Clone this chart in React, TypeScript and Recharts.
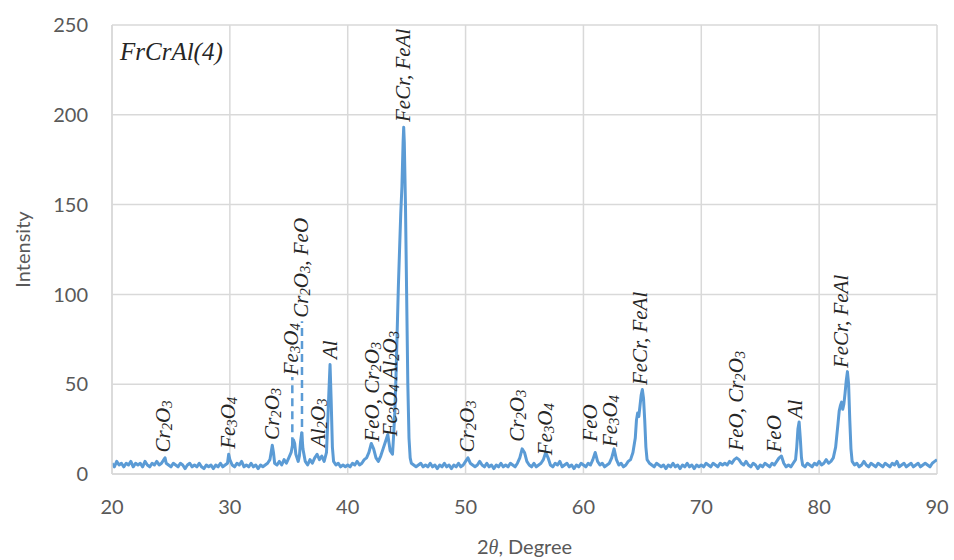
import React from 'react';
import { LineChart, Line, XAxis, YAxis, CartesianGrid, ReferenceDot, ReferenceLine, Label } from 'recharts';

// 2θ (degree), intensity pairs
const scanA: [number, number][] = [
  [20, 6], [20.2, 4], [20.4, 7], [20.6, 5], [20.8, 6], [21, 4], [21.2, 6], [21.4, 5], [21.6, 7], [21.8, 4],
  [22, 6], [22.2, 5], [22.4, 6], [22.6, 4], [22.8, 7], [23, 5], [23.2, 4], [23.4, 6], [23.6, 5], [23.8, 7],
  [24, 5], [24.2, 6], [24.4, 8], [24.5, 9], [24.6, 6], [24.8, 5], [25, 4], [25.2, 6], [25.4, 5], [25.6, 4],
  [25.8, 6], [26, 5], [26.2, 3], [26.4, 5], [26.6, 6], [26.8, 4], [27, 5], [27.2, 4], [27.4, 6], [27.6, 4],
  [27.8, 3], [28, 5], [28.2, 4], [28.4, 5], [28.6, 3], [28.8, 5], [29, 4], [29.2, 6], [29.4, 4], [29.6, 5],
  [29.8, 6], [29.9, 11], [30, 8], [30.2, 5], [30.4, 4], [30.6, 6], [30.8, 5], [31, 7], [31.2, 4], [31.4, 5],
  [31.6, 4], [31.8, 6], [32, 4], [32.2, 5], [32.4, 3], [32.6, 5], [32.8, 4], [33, 5],
];

const scanB: [number, number][] = [
  [33.2, 6], [33.4, 8], [33.6, 16], [33.7, 12], [33.8, 6], [34, 5], [34.2, 7], [34.4, 5], [34.6, 8], [34.8, 6],
  [35, 9], [35.2, 12], [35.4, 19], [35.5, 17], [35.6, 11], [35.8, 7], [35.9, 10], [36, 18], [36.1, 23], [36.2, 14],
  [36.4, 7], [36.6, 5], [36.8, 8], [37, 6], [37.2, 9], [37.4, 11], [37.6, 8], [37.8, 10], [38, 7], [38.2, 12],
  [38.4, 45], [38.5, 61], [38.6, 40], [38.7, 15], [38.8, 7], [39, 5], [39.2, 6], [39.4, 4], [39.6, 5], [39.8, 4],
  [40, 5], [40.2, 4], [40.4, 6], [40.6, 5], [40.8, 7], [41, 5], [41.2, 6], [41.4, 8], [41.6, 9], [41.8, 12],
  [42, 17], [42.2, 14], [42.4, 9], [42.6, 7], [42.8, 10], [43, 14], [43.2, 18], [43.4, 22], [43.6, 13], [43.8, 11],
  [43.9, 22], [44, 35], [44.1, 55], [44.2, 80], [44.3, 105], [44.4, 125], [44.5, 145], [44.6, 160], [44.7, 185], [44.75, 193],
  [44.8, 185], [44.9, 150], [45, 100], [45.1, 50], [45.2, 20], [45.3, 9], [45.4, 6], [45.6, 5], [45.8, 4],
];

const scanC: [number, number][] = [
  [46, 5], [46.2, 6], [46.4, 4], [46.6, 5], [46.8, 4], [47, 6], [47.2, 4], [47.4, 5], [47.6, 3], [47.8, 5],
  [48, 4], [48.2, 6], [48.4, 4], [48.6, 5], [48.8, 3], [49, 5], [49.2, 4], [49.4, 6], [49.6, 4], [49.8, 5],
  [50, 7], [50.2, 9], [50.4, 6], [50.6, 5], [50.8, 4], [51, 5], [51.2, 7], [51.4, 5], [51.6, 4], [51.8, 6],
  [52, 4], [52.2, 5], [52.4, 3], [52.6, 5], [52.8, 4], [53, 6], [53.2, 4], [53.4, 5], [53.6, 4], [53.8, 6],
  [54, 5], [54.2, 4], [54.4, 6], [54.6, 9], [54.8, 14], [55, 12], [55.2, 7], [55.4, 5], [55.6, 4], [55.8, 6],
  [56, 4], [56.2, 5], [56.4, 6], [56.6, 8], [56.8, 12], [57, 9], [57.2, 5], [57.4, 4], [57.6, 6], [57.8, 5],
  [58, 7], [58.2, 4], [58.4, 5], [58.6, 6], [58.8, 4], [59, 5], [59.2, 3], [59.4, 5], [59.6, 4], [59.8, 6],
  [60, 5], [60.2, 4], [60.4, 6], [60.6, 5], [60.8, 8], [61, 12], [61.2, 7], [61.4, 5], [61.6, 6], [61.8, 4],
  [62, 5], [62.2, 6], [62.4, 9], [62.6, 14], [62.8, 8], [63, 5], [63.2, 6], [63.4, 4], [63.6, 5], [63.8, 7],
  [64, 8], [64.2, 12], [64.4, 20], [64.5, 30], [64.6, 34], [64.7, 32], [64.8, 38], [64.9, 44], [65, 47], [65.1, 42],
  [65.2, 30], [65.3, 15], [65.4, 8], [65.6, 6], [65.8, 5],
];

const scanD: [number, number][] = [
  [66, 4], [66.2, 6], [66.4, 5], [66.6, 4], [66.8, 5], [67, 3], [67.2, 5], [67.4, 4], [67.6, 6], [67.8, 4],
  [68, 5], [68.2, 3], [68.4, 5], [68.6, 4], [68.8, 6], [69, 4], [69.2, 5], [69.4, 3], [69.6, 5], [69.8, 4],
  [70, 5], [70.2, 4], [70.4, 6], [70.6, 5], [70.8, 4], [71, 6], [71.2, 5], [71.4, 4], [71.6, 6], [71.8, 5],
  [72, 6], [72.2, 5], [72.4, 7], [72.6, 6], [72.8, 8], [73, 9], [73.2, 8], [73.4, 6], [73.6, 5], [73.8, 7],
  [74, 5], [74.2, 4], [74.4, 6], [74.6, 5], [74.8, 3], [75, 5], [75.2, 4], [75.4, 6], [75.6, 5], [75.8, 4],
  [76, 6], [76.2, 5], [76.4, 7], [76.6, 9], [76.8, 10], [77, 6], [77.2, 4], [77.4, 5], [77.6, 4], [77.8, 6],
  [78, 8], [78.1, 15], [78.2, 25], [78.3, 29], [78.4, 20], [78.5, 9], [78.6, 5], [78.8, 4], [79, 6], [79.2, 5],
  [79.4, 4], [79.6, 6], [79.8, 5], [80, 7], [80.2, 5], [80.4, 6], [80.6, 8], [80.8, 6], [81, 7], [81.2, 9],
  [81.4, 15], [81.6, 28], [81.7, 35], [81.8, 38], [81.9, 40], [82, 36], [82.1, 39], [82.2, 45], [82.3, 52], [82.4, 57],
  [82.5, 50], [82.6, 30], [82.7, 14], [82.8, 7], [83, 5], [83.2, 6], [83.4, 4], [83.6, 5], [83.8, 7], [84, 5],
  [84.2, 4], [84.4, 6], [84.6, 5], [84.8, 4], [85, 6], [85.2, 5], [85.4, 4], [85.6, 6], [85.8, 5], [86, 4],
  [86.2, 6], [86.4, 5], [86.6, 7], [86.8, 4], [87, 5], [87.2, 6], [87.4, 4], [87.6, 5], [87.8, 6], [88, 4],
  [88.2, 5], [88.4, 6], [88.6, 4], [88.8, 5], [89, 6], [89.2, 5], [89.4, 4], [89.6, 6], [89.8, 7], [90, 8],
];

const xTicks = [20, 30, 40, 50, 60, 70, 80, 90];
const yTicks = [0, 50, 100, 150, 200, 250];

const sampleName = 'FrCrAl(4)';
const xTitle = ['2', 'θ', ', Degree'];
const yTitle = 'Intensity';

// phase labels: angle, intensity where the label starts, text ("_n" = subscript)
const peakLabels = [
  { at: 24.3, base: 12, text: 'Cr_2O_3' },
  { at: 29.85, base: 14, text: 'Fe_3O_4' },
  { at: 33.6, base: 19, text: 'Cr_2O_3' },
  { at: 35.2, base: 55, text: 'Fe_3O_4' },
  { at: 36.05, base: 87, text: 'Cr_2O_3, FeO' },
  { at: 37.5, base: 15, text: 'Al_2O_3' },
  { at: 38.5, base: 64, text: 'Al' },
  { at: 42.1, base: 18, text: 'FeO, Cr_2O_3' },
  { at: 43.6, base: 21, text: 'Fe_3O_4 Al_2O_3' },
  { at: 44.7, base: 196, text: 'FeCr, FeAl' },
  { at: 50.1, base: 12, text: 'Cr_2O_3' },
  { at: 54.4, base: 18, text: 'Cr_2O_3' },
  { at: 56.7, base: 10.5, text: 'Fe_3O_4' },
  { at: 60.6, base: 18, text: 'FeO' },
  { at: 62.25, base: 15, text: 'Fe_3O_4' },
  { at: 64.8, base: 49.5, text: 'FeCr, FeAl' },
  { at: 72.95, base: 13, text: 'FeO, Cr_2O_3' },
  { at: 76.2, base: 12, text: 'FeO' },
  { at: 77.95, base: 31, text: 'Al' },
  { at: 81.85, base: 59, text: 'FeCr, FeAl' },
];

const dashedMarkers = [
  { at: 35.3, from: 16, to: 54 },
  { at: 36.12, from: 19, to: 85 },
];

const data = [...scanA, ...scanB, ...scanC, ...scanD].map(([t, i]) => ({ t, i }));

const LINE = '#5B9BD5';
const GRID = '#D9D9D9';
const AXIS_TEXT = '#595959';
const LABEL_FONT = 21;

function chemParts(text: string) {
  return text.split(/(_\d)/).filter((s) => s.length > 0);
}

const PeakText = (props: any) => {
  const { viewBox, text } = props;
  if (!viewBox) return null;
  const x = viewBox.x + (viewBox.width || 0) / 2;
  const y = viewBox.y + (viewBox.height || 0) / 2;
  const parts = chemParts(text);
  let sub = false;
  return (
    <text
      x={x}
      y={y}
      transform={`rotate(-90 ${x} ${y})`}
      dominantBaseline="central"
      textAnchor="start"
      fontFamily="'Liberation Serif', 'DejaVu Serif', serif"
      fontStyle="italic"
      fontSize={LABEL_FONT}
      fill="#262626"
    >
      {parts.map((p, k) => {
        if (p.startsWith('_')) {
          const el = (
            <tspan key={k} dy={sub ? 0 : 4} fontSize={LABEL_FONT * 0.7}>
              {p.slice(1)}
            </tspan>
          );
          sub = true;
          return el;
        }
        const el = (
          <tspan key={k} dy={sub ? -4 : 0}>
            {p}
          </tspan>
        );
        sub = false;
        return el;
      })}
    </text>
  );
};

const SampleText = (props: any) => {
  const { viewBox } = props;
  if (!viewBox) return null;
  return (
    <text
      x={viewBox.x + 8}
      y={viewBox.y + 35}
      fontFamily="'Liberation Serif', 'DejaVu Serif', serif"
      fontStyle="italic"
      fontSize={25}
      fill="#262626"
    >
      {sampleName}
    </text>
  );
};

const XTitle = (props: any) => {
  const { viewBox } = props;
  if (!viewBox) return null;
  const cx = viewBox.x + viewBox.width / 2;
  return (
    <text x={cx} y={viewBox.y + 80} textAnchor="middle" fontFamily="Lato, 'Open Sans', sans-serif" fontSize={20} fill={AXIS_TEXT}>
      <tspan>{xTitle[0]}</tspan>
      <tspan fontFamily="'Liberation Serif', serif" fontStyle="italic">{xTitle[1]}</tspan>
      <tspan>{xTitle[2]}</tspan>
    </text>
  );
};

const YTitle = (props: any) => {
  const { viewBox } = props;
  if (!viewBox) return null;
  const cx = 22;
  const cy = viewBox.y + viewBox.height / 2;
  return (
    <text
      x={cx}
      y={cy}
      transform={`rotate(-90 ${cx} ${cy})`}
      textAnchor="middle"
      dominantBaseline="central"
      fontFamily="Lato, 'Open Sans', sans-serif"
      fontSize={20}
      fill={AXIS_TEXT}
    >
      {yTitle}
    </text>
  );
};

export default function App() {
  return (
    <div style={{ position: 'absolute', left: 0, top: 0, width: 954, height: 560, background: '#fff' }}>
      <LineChart width={954} height={560} data={data} margin={{ top: 25, right: 17, bottom: 0, left: 0 }}>
        <CartesianGrid stroke={GRID} strokeWidth={1.5} horizontal vertical />
        <XAxis
          dataKey="t"
          type="number"
          domain={[20, 90]}
          ticks={xTicks}
          allowDataOverflow
          height={86}
          tickSize={0}
          tickMargin={26}
          axisLine={{ stroke: GRID, strokeWidth: 1.5 }}
          tickLine={false}
          tick={{ fill: AXIS_TEXT, fontSize: 20, fontFamily: "Lato, 'Open Sans', sans-serif" }}
          label={<Label content={<XTitle />} />}
        />
        <YAxis
          type="number"
          domain={[0, 250]}
          ticks={yTicks}
          width={112}
          tickSize={0}
          tickMargin={24}
          axisLine={{ stroke: GRID, strokeWidth: 1.5 }}
          tickLine={false}
          tick={{ fill: AXIS_TEXT, fontSize: 20, fontFamily: "Lato, 'Open Sans', sans-serif" }}
          label={<Label content={<YTitle />} />}
        />
        <Line
          type="linear"
          dataKey="i"
          stroke={LINE}
          strokeWidth={3}
          strokeLinejoin="round"
          dot={false}
          isAnimationActive={false}
        />
        {dashedMarkers.map((m, k) => (
          <ReferenceLine
            key={`d${k}`}
            segment={[{ x: m.at, y: m.from }, { x: m.at, y: m.to }]}
            stroke={LINE}
            strokeWidth={2.5}
            strokeDasharray="8 5"
          />
        ))}
        {peakLabels.map((p, k) => (
          <ReferenceDot
            key={`p${k}`}
            x={p.at}
            y={p.base}
            r={0}
            fill="none"
            stroke="none"
            label={<Label content={<PeakText text={p.text} />} />}
          />
        ))}
        <ReferenceDot x={20} y={250} r={0} fill="none" stroke="none" label={<Label content={<SampleText />} />} />
      </LineChart>
    </div>
  );
}
